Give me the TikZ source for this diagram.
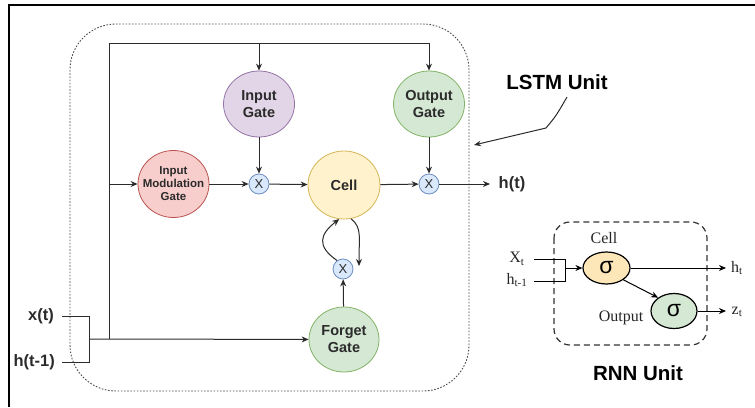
\documentclass[tikz,border=0pt]{standalone}
\usepackage{fontspec}
\setmainfont{Liberation Sans}
\newfontfamily\serifrm{Liberation Serif}
\usetikzlibrary{shapes.geometric,arrows.meta}
\definecolor{igF}{HTML}{E1D5E7}\definecolor{igD}{HTML}{9673A6}
\definecolor{ogF}{HTML}{D5E8D4}\definecolor{ogD}{HTML}{82B366}
\definecolor{imF}{HTML}{F8CECC}\definecolor{imD}{HTML}{B85450}
\definecolor{ceF}{HTML}{FFF2CC}\definecolor{ceD}{HTML}{D6B656}
\definecolor{muF}{HTML}{DAE8FC}\definecolor{muD}{HTML}{6C8EBF}
\definecolor{sgA}{HTML}{FDE6B8}\definecolor{sgB}{HTML}{D5E8D4}
\definecolor{ink}{HTML}{2B2B2B}
\begin{document}
\begin{tikzpicture}[x=1pt,y=-1pt,
  gate/.style={ellipse, draw, line width=0.8pt, inner sep=-6pt, align=center,
    font=\fontsize{14.5}{17}\selectfont\bfseries, text=ink},
  mult/.style={circle, draw=muD, fill=muF, line width=0.8pt, minimum size=20pt, inner sep=0pt,
    font=\fontsize{13}{13}\selectfont, text=ink},
  sig/.style={ellipse, draw=black, line width=1.2pt, inner sep=0pt, font=\fontsize{23}{23}\selectfont},
  conn/.style={line width=1pt, draw=ink},
  arr/.style={conn, -{Stealth[length=7pt,width=6pt]}},
  sarr/.style={line width=1pt, draw=black, -{Stealth[length=7pt,width=6pt]}},
  lbl/.style={font=\fontsize{16.5}{18}\selectfont\bfseries, text=ink, inner sep=0pt},
  big/.style={font=\fontsize{20.5}{22}\selectfont\bfseries, text=black, inner sep=0pt},
  ser/.style={font=\fontsize{16}{18}\selectfont\serifrm, text=black!85, inner sep=0pt},
]
\useasboundingbox (0,0) rectangle (755,407);
% frame
\draw[line width=1.5pt] (9,407) -- (9,5) -- (755,5);
% LSTM unit box
\draw[draw=black!70, line width=0.9pt, dash pattern=on 1.6pt off 1.6pt, rounded corners=46pt] (70,24) rectangle (469,391);

% gates
\node[gate, fill=igF, draw=igD, minimum width=71pt, minimum height=66pt] (ig) at (259,104) {Input\\Gate};
\node[gate, fill=ogF, draw=ogD, minimum width=71pt, minimum height=66pt] (og) at (429,104) {Output\\Gate};
\node[gate, fill=imF, draw=imD, minimum width=71pt, minimum height=67pt, inner sep=-14pt,
  font=\fontsize{11.5}{13}\selectfont\bfseries] (img) at (173.5,184) {Input\\Modulation\\Gate};
\node[gate, fill=ceF, draw=ceD, minimum width=72pt, minimum height=68pt] (cell) at (344,185) {Cell};
\node[gate, fill=ogF, draw=ogD, minimum width=70pt, minimum height=65pt] (fg) at (344,339.5) {Forget\\Gate};
\node[mult] (m1) at (259,184) {X};
\node[mult] (m2) at (429,184) {X};
\node[mult] (m3) at (343,269) {X};

% labels
\node[lbl] (ht) at (512,184) {h(t)};
\node[lbl, anchor=east] (xt) at (54,316) {x(t)};
\node[lbl, anchor=east] (htm) at (55,362) {h(t-1)};
\node[big] (lstm) at (557,82) {LSTM Unit};

% coordinates
\coordinate (tl) at (109,43);
\coordinate (tm) at (259,43);
\coordinate (tr) at (429,43);
\coordinate (ml) at (109,184);
\coordinate (bl) at (109,339);
\coordinate (jn) at (89,339);
\coordinate (xa) at (62,316);
\coordinate (xb) at (89,316);
\coordinate (ha) at (62,362);
\coordinate (hb) at (89,362);
\coordinate (hout) at (490,184);
\coordinate (fb) at (359,266);
\coordinate (la1) at (567,97);
\coordinate (la2) at (546,128);
\coordinate (la3) at (474,145);

% connectors
\draw[conn] (bl) -- (tl) -- (tr);
\draw[arr] (tm) -- (ig);
\draw[arr] (tr) -- (og);
\draw[arr] (ml) -- (img);
\draw[arr] (img) -- (m1);
\draw[arr] (m1) -- (cell);
\draw[arr] (cell) -- (m2);
\draw[arr] (m2) -- (hout);
\draw[arr] (ig) -- (m1);
\draw[arr] (og) -- (m2);
\draw[arr] (fg) -- (m3);
\draw[conn] (xa) -- (xb) -- (hb) -- (ha);
\draw[arr] (jn) -- (fg);
\draw[arr] (m3.125) .. controls (316,246) and (320,234) .. (cell.262);
\draw[arr] (cell.282) .. controls (362,228) and (359,236) .. (fb);
\draw[conn, -{Stealth[length=7pt,width=5.5pt]}] (la1) .. controls (556,116) .. (la2) -- (la3);

% RNN unit
\draw[line width=1.2pt, dash pattern=on 6pt off 4pt, draw=black!80, rounded corners=16pt] (554,222) rectangle (707,345);
\node[sig, fill=sgA, minimum width=47pt, minimum height=32pt] (s1) at (606.5,268) {σ};
\node[sig, fill=sgB, minimum width=46pt, minimum height=35pt] (s2) at (674,311) {σ};
\node[ser] (clab) at (604,238) {Cell};
\node[ser] (olab) at (621,318) {Output};
\node[ser] (xin) at (517,259) {X\textsubscript{t}};
\node[ser] (hin) at (517,280) {h\textsubscript{t-1}};
\node[ser] (hto) at (737,268) {h\textsubscript{t}};
\node[ser] (zto) at (737,312) {z\textsubscript{t}};
\node[big] (rnn) at (638,373) {RNN Unit};
\coordinate (ra) at (534,259);
\coordinate (rb) at (565,259);
\coordinate (rc) at (534,281);
\coordinate (rd) at (565,281);
\coordinate (rj) at (565,268);
\coordinate (rh) at (726,268);
\coordinate (rz) at (726,311);
\draw[line width=1pt] (ra) -- (rb) -- (rd) -- (rc);
\draw[sarr] (rj) -- (s1);
\draw[sarr] (s1) -- (rh);
\draw[sarr] (s1.-35) -- (s2.140);
\draw[sarr] (s2) -- (rz);
\end{tikzpicture}
\end{document}
